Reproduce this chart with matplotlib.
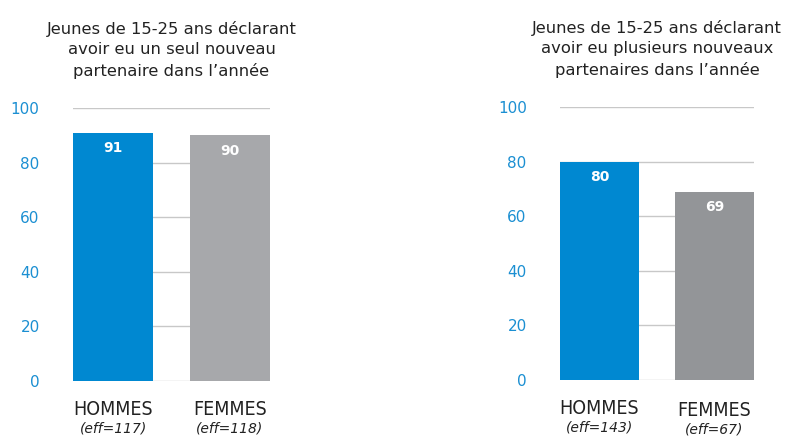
import matplotlib
matplotlib.use("Agg")
from matplotlib import pyplot as plt

plt.rcParams['font.family'] = ['DejaVu Sans']

categories = ["HOMMES", "FEMMES"]
left_values = [91, 90]
left_eff = ["(eff=117)", "(eff=118)"]
right_values = [80, 69]
right_eff = ["(eff=143)", "(eff=67)"]
yticks = [0, 20, 40, 60, 80, 100]

left_title = "Jeunes de 15-25 ans déclarant\navoir eu un seul nouveau\npartenaire dans l’année"
right_title = "Jeunes de 15-25 ans déclarant\navoir eu plusieurs nouveaux\npartenaires dans l’année"

blue = "#0088d1"
tick_blue = "#1b8fd2"


def draw_panel(fig, rect, values, effs, title, gray, femmes_drop=0):
    ax = fig.add_axes(rect)
    xs = [0, 1]
    for y in yticks:
        ax.axhline(y, color="#c8c8c8", lw=1, zorder=0)
    bars = ax.bar(xs, values, width=0.686, color=[blue, gray], zorder=2)
    for b, v in zip(bars, values):
        ax.text(b.get_x() + b.get_width() / 2, v - 3, str(v), ha='center', va='top',
                color='white', fontsize=10, fontweight='bold', zorder=3)
    ax.set_xlim(-0.343, 1.343)
    ax.set_ylim(0, 100)
    ax.set_yticks(yticks)
    ax.tick_params(axis='y', length=0, pad=24, labelsize=11, labelcolor=tick_blue)
    ax.set_xticks([])
    for s in ax.spines.values():
        s.set_visible(False)
    for i, (c, e) in enumerate(zip(categories, effs)):
        off = femmes_drop if i == 1 else 0
        ax.text(xs[i], -7 - off, c, ha='center', va='top', fontsize=14,
                color='#222222', fontstretch='condensed', family='DejaVu Sans',
                clip_on=False)
        ax.text(xs[i], -15 - off, e, ha='center', va='top', fontsize=10,
                style='italic', color='#222222', clip_on=False)
    ax.set_title(title, fontsize=11.8, color='#222222', pad=23, linespacing=1.45)
    return ax


fig = plt.figure(figsize=(7.86, 4.38), dpi=100)
draw_panel(fig, [0.0929, 0.1301, 0.2506, 0.6233], left_values, left_eff, left_title, "#a7a8ab")
draw_panel(fig, [0.7125, 0.1324, 0.2468, 0.6233], right_values, right_eff, right_title, "#939598",
           femmes_drop=0.7)
fig.savefig("out.png", dpi=100)
